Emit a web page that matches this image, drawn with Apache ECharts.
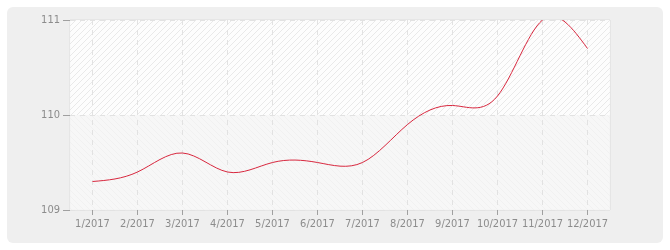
<!DOCTYPE html>
<html>
<head>
<meta charset="utf-8">
<script src="https://cdn.jsdelivr.net/npm/echarts@6/dist/echarts.min.js"></script>
<style>
html,body{margin:0;padding:0;background:#fff;}
#wrap{position:absolute;left:0;top:0;width:670px;height:250px;}
#panel{position:absolute;left:7px;top:7px;width:656px;height:236px;background:#efefef;border-radius:6px;}
#chart{position:absolute;left:0;top:0;width:670px;height:250px;}
</style>
</head>
<body>
<div id="wrap"><div id="panel"></div><div id="chart"></div></div>
<script>
const categories = ['1/2017','2/2017','3/2017','4/2017','5/2017','6/2017','7/2017','8/2017','9/2017','10/2017','11/2017','12/2017'];
const values = [109.3, 109.4, 109.6, 109.4, 109.5, 109.5, 109.5, 109.9, 110.1, 110.2, 111.0, 110.7];
const yTicks = [109, 110, 111];

function makePattern(bg, line, dir) {
  const s = 6;
  const c = document.createElement('canvas');
  c.width = s; c.height = s;
  const ctx = c.getContext('2d');
  ctx.fillStyle = bg; ctx.fillRect(0, 0, s, s);
  ctx.strokeStyle = line; ctx.lineWidth = 1;
  ctx.beginPath();
  if (dir > 0) {
    ctx.moveTo(0, s); ctx.lineTo(s, 0);
    ctx.moveTo(-s/2, s/2); ctx.lineTo(s/2, -s/2);
    ctx.moveTo(s/2, s*1.5); ctx.lineTo(s*1.5, s/2);
  } else {
    ctx.moveTo(0, 0); ctx.lineTo(s, s);
    ctx.moveTo(-s/2, s/2); ctx.lineTo(s/2, s*1.5);
    ctx.moveTo(s/2, -s/2); ctx.lineTo(s*1.5, s/2);
  }
  ctx.stroke();
  return { image: c, repeat: 'repeat' };
}
const lowPat = makePattern('rgba(248,248,248,0.85)', 'rgba(238,238,238,0.6)', -1);
const highPat = makePattern('rgba(255,255,255,0.85)', 'rgba(228,228,228,0.8)', 1);

// Natural cubic spline through pixel points (uniform spacing in index)
function splinePath(pts) {
  const n = pts.length;
  const y = pts.map(p => p[1]);
  const M = new Array(n).fill(0);
  if (n > 2) {
    const m = n - 2;
    const a = new Array(m).fill(1), b = new Array(m).fill(4), c = new Array(m).fill(1), d = [];
    for (let i = 1; i < n - 1; i++) d.push(6 * (y[i+1] - 2*y[i] + y[i-1]));
    for (let i = 1; i < m; i++) {
      const w = a[i] / b[i-1];
      b[i] -= w * c[i-1];
      d[i] -= w * d[i-1];
    }
    const sol = new Array(m);
    sol[m-1] = d[m-1] / b[m-1];
    for (let i = m - 2; i >= 0; i--) sol[i] = (d[i] - c[i] * sol[i+1]) / b[i];
    for (let i = 0; i < m; i++) M[i+1] = sol[i];
  }
  let path = 'M' + pts[0][0] + ' ' + pts[0][1];
  for (let i = 0; i < n - 1; i++) {
    const dy = y[i+1] - y[i];
    const d0 = dy - (2*M[i] + M[i+1]) / 6;
    const d1 = dy + (M[i] + 2*M[i+1]) / 6;
    const dx = pts[i+1][0] - pts[i][0];
    const c1 = [pts[i][0] + dx/3, y[i] + d0/3];
    const c2 = [pts[i+1][0] - dx/3, y[i+1] - d1/3];
    path += ' C' + c1[0] + ' ' + c1[1] + ' ' + c2[0] + ' ' + c2[1] + ' ' + pts[i+1][0] + ' ' + pts[i+1][1];
  }
  return path;
}

const chart = echarts.init(document.getElementById('chart'), null, {renderer: 'canvas'});
const labelFont = {color: '#8c8c8c', fontFamily: 'DejaVu Sans Condensed', fontSize: 11};
chart.setOption({
  animation: false,
  backgroundColor: 'transparent',
  grid: {left: 70, right: 60, top: 20, bottom: 40, show: true, borderColor: '#dcdcdc', borderWidth: 1, backgroundColor: 'transparent'},
  xAxis: {
    type: 'category',
    data: categories,
    boundaryGap: true,
    axisLine: {show: false},
    axisTick: {show: true, alignWithLabel: true, length: 5, lineStyle: {color: '#a0a0a0'}},
    axisLabel: Object.assign({margin: 9, interval: 0}, labelFont),
    splitLine: {show: true, alignWithLabel: true, lineStyle: {color: '#e2e2e2', type: [5, 5]}}
  },
  yAxis: {
    type: 'value',
    min: yTicks[0], max: yTicks[yTicks.length - 1], interval: 1,
    axisLine: {show: false},
    axisTick: {show: true, length: 7, lineStyle: {color: '#a0a0a0'}},
    axisLabel: Object.assign({margin: 10}, labelFont),
    splitLine: {show: true, lineStyle: {color: '#e2e2e2', type: [5, 5]}},
    splitArea: {show: true, areaStyle: {color: [lowPat, highPat]}}
  },
  series: [{
    type: 'custom',
    data: values.map((v, i) => [i, v]),
    encode: {x: 0, y: 1},
    renderItem: function (params, api) {
      if (params.dataIndex !== 0) return null;
      const pts = values.map((v, i) => api.coord([i, v]));
      const cs = params.coordSys;
      return {
        type: 'path',
        shape: {pathData: splinePath(pts)},
        style: {stroke: '#d7263d', lineWidth: 1, fill: null},
        clipPath: {type: 'rect', shape: {x: cs.x, y: cs.y, width: cs.width, height: cs.height}},
        silent: true
      };
    }
  }]
});
</script>
</body>
</html>
